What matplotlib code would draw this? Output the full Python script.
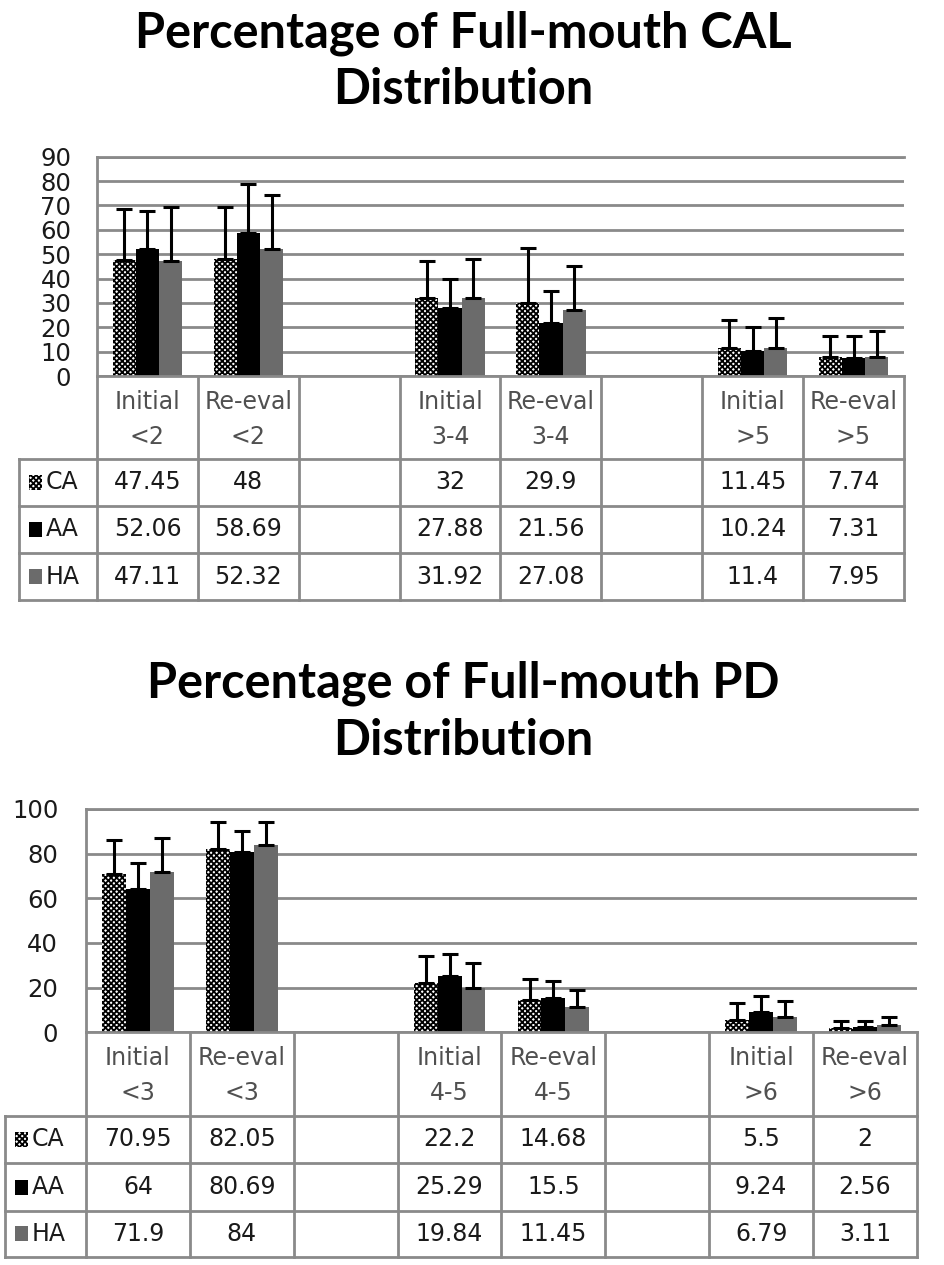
import numpy as np
import matplotlib
matplotlib.use("Agg")
import matplotlib.pyplot as plt
from matplotlib.patches import Rectangle

W, H = 945, 1265

groups = ["CA", "AA", "HA"]
slots = [0, 1, 3, 4, 6, 7]   # slots 2 and 5 stay empty

cal_head = ["Initial", "Re-eval", "Initial", "Re-eval", "Initial", "Re-eval"]
cal_sub = ["<2", "<2", "3-4", "3-4", ">5", ">5"]
cal_ca = [47.45, 48, 32, 29.9, 11.45, 7.74]
cal_aa = [52.06, 58.69, 27.88, 21.56, 10.24, 7.31]
cal_ha = [47.11, 52.32, 31.92, 27.08, 11.4, 7.95]
cal_ca_sd = [21.0, 21.5, 15.2, 22.8, 11.5, 8.7]
cal_aa_sd = [15.5, 20.2, 11.8, 13.4, 9.9, 9.1]
cal_ha_sd = [22.4, 21.8, 16.2, 18.2, 12.5, 10.4]

pd_head = ["Initial", "Re-eval", "Initial", "Re-eval", "Initial", "Re-eval"]
pd_sub = ["<3", "<3", "4-5", "4-5", ">6", ">6"]
pd_ca = [70.95, 82.05, 22.2, 14.68, 5.5, 2]
pd_aa = [64, 80.69, 25.29, 15.5, 9.24, 2.56]
pd_ha = [71.9, 84, 19.84, 11.45, 6.79, 3.11]
pd_ca_sd = [15.0, 12.0, 12.1, 9.2, 7.6, 2.9]
pd_aa_sd = [11.9, 9.3, 9.9, 7.5, 6.8, 2.3]
pd_ha_sd = [15.0, 10.0, 11.4, 7.6, 7.2, 3.8]

GRID = "#8a8a8a"
plt.rcParams["hatch.linewidth"] = 1.3
styles = {
    "CA": dict(facecolor="white", edgecolor="black", hatch="xxxxxx", linewidth=0),
    "AA": dict(facecolor="black", edgecolor="black", linewidth=0),
    "HA": dict(facecolor="#6b6b6b", edgecolor="#6b6b6b", linewidth=0),
}


def frect(l, t, r, b):
    return [l / W, 1 - b / H, (r - l) / W, (b - t) / H]


def draw_chart(fig, box, leg_left, rows_y, ymax, ystep, tick_pad, title, title_y,
               heads, subs, vals, sds):
    l, t, r, b = box
    ax = fig.add_axes(frect(l, t, r, b))
    bw = 0.23
    x = np.array(slots, dtype=float)
    for i, g in enumerate(groups):
        ax.bar(x + (i - 1) * bw, vals[i], bw,
               yerr=[np.zeros(len(x)), sds[i]],
               error_kw=dict(ecolor="black", elinewidth=2.2, capsize=6, capthick=2.2),
               zorder=3, **styles[g])
    ax.set_xlim(-0.5, 7.5)
    ax.set_ylim(0, ymax)
    ax.set_yticks(np.arange(0, ymax + 1, ystep))
    ax.set_xticks([])
    ax.yaxis.grid(True, color=GRID, lw=2)
    ax.set_axisbelow(True)
    for s in ["right", "bottom"]:
        ax.spines[s].set_visible(False)
    for s in ["left", "top"]:
        ax.spines[s].set_color(GRID)
        ax.spines[s].set_linewidth(2)
    ax.tick_params(axis="y", length=0, labelsize=17.5, pad=tick_pad, labelcolor="#1a1a1a")

    # data table under the bars
    cat_px = (r - l) / 8.0
    legx = -0.5 - (l - leg_left) / cat_px
    tb = rows_y[-1]
    tx = fig.add_axes(frect(l, b, r, tb))
    tx.set_xlim(-0.5, 7.5)
    tx.set_ylim(tb - b, 0)
    tx.axis("off")
    hh = rows_y[0] - b
    lk = dict(color=GRID, lw=2, clip_on=False, solid_capstyle="projecting")
    tx.plot([-0.5, 7.5], [0, 0], **lk)
    for y in rows_y:
        tx.plot([legx, 7.5], [y - b, y - b], **lk)
    for k in range(9):
        tx.plot([k - 0.5, k - 0.5], [0, tb - b], **lk)
    tx.plot([legx, legx], [hh, tb - b], **lk)

    for j, s in enumerate(slots):
        tx.text(s, hh * 0.31, heads[j], ha="center", va="center", fontsize=17,
                color="#505050", clip_on=False)
        tx.text(s, hh * 0.73, subs[j], ha="center", va="center", fontsize=17,
                color="#505050", clip_on=False)
    edges = [b] + list(rows_y)
    for i, g in enumerate(groups):
        yc = (edges[i + 1] + edges[i + 2]) / 2 - b
        for j, s in enumerate(slots):
            tx.text(s, yc, f"{vals[i][j]:g}", ha="center", va="center", fontsize=17,
                    color="#1a1a1a", clip_on=False)
        kx = legx + 10 / cat_px
        kw, kh = 13 / cat_px, 15
        st = dict(styles[g])
        st["linewidth"] = 0
        tx.add_patch(Rectangle((kx, yc - kh / 2), kw, kh, clip_on=False, **st))
        tx.text(kx + kw + 4 / cat_px, yc, g, ha="left", va="center", fontsize=17,
                color="#1a1a1a", clip_on=False)

    for k, line in enumerate(title.split("\n")):
        fig.text(463 / W, 1 - title_y[k] / H, line, ha="center", va="baseline",
                 fontsize=35, fontweight="bold", family="Lato", color="black")
    return ax


fig = plt.figure(figsize=(W / 100, H / 100), dpi=100)

draw_chart(fig, (97, 156.7, 904, 376), 19, [459.3, 505.7, 553.3, 600], 90, 10, 18.5,
           "Percentage of Full-mouth CAL\nDistribution", [48, 104],
           cal_head, cal_sub, [cal_ca, cal_aa, cal_ha],
           [cal_ca_sd, cal_aa_sd, cal_ha_sd])

draw_chart(fig, (86, 809, 917, 1032.3), 5, [1115.7, 1163.3, 1210.7, 1256.7], 100, 20, 20,
           "Percentage of Full-mouth PD\nDistribution", [697, 755],
           pd_head, pd_sub, [pd_ca, pd_aa, pd_ha],
           [pd_ca_sd, pd_aa_sd, pd_ha_sd])

fig.savefig("out.png", dpi=100)
